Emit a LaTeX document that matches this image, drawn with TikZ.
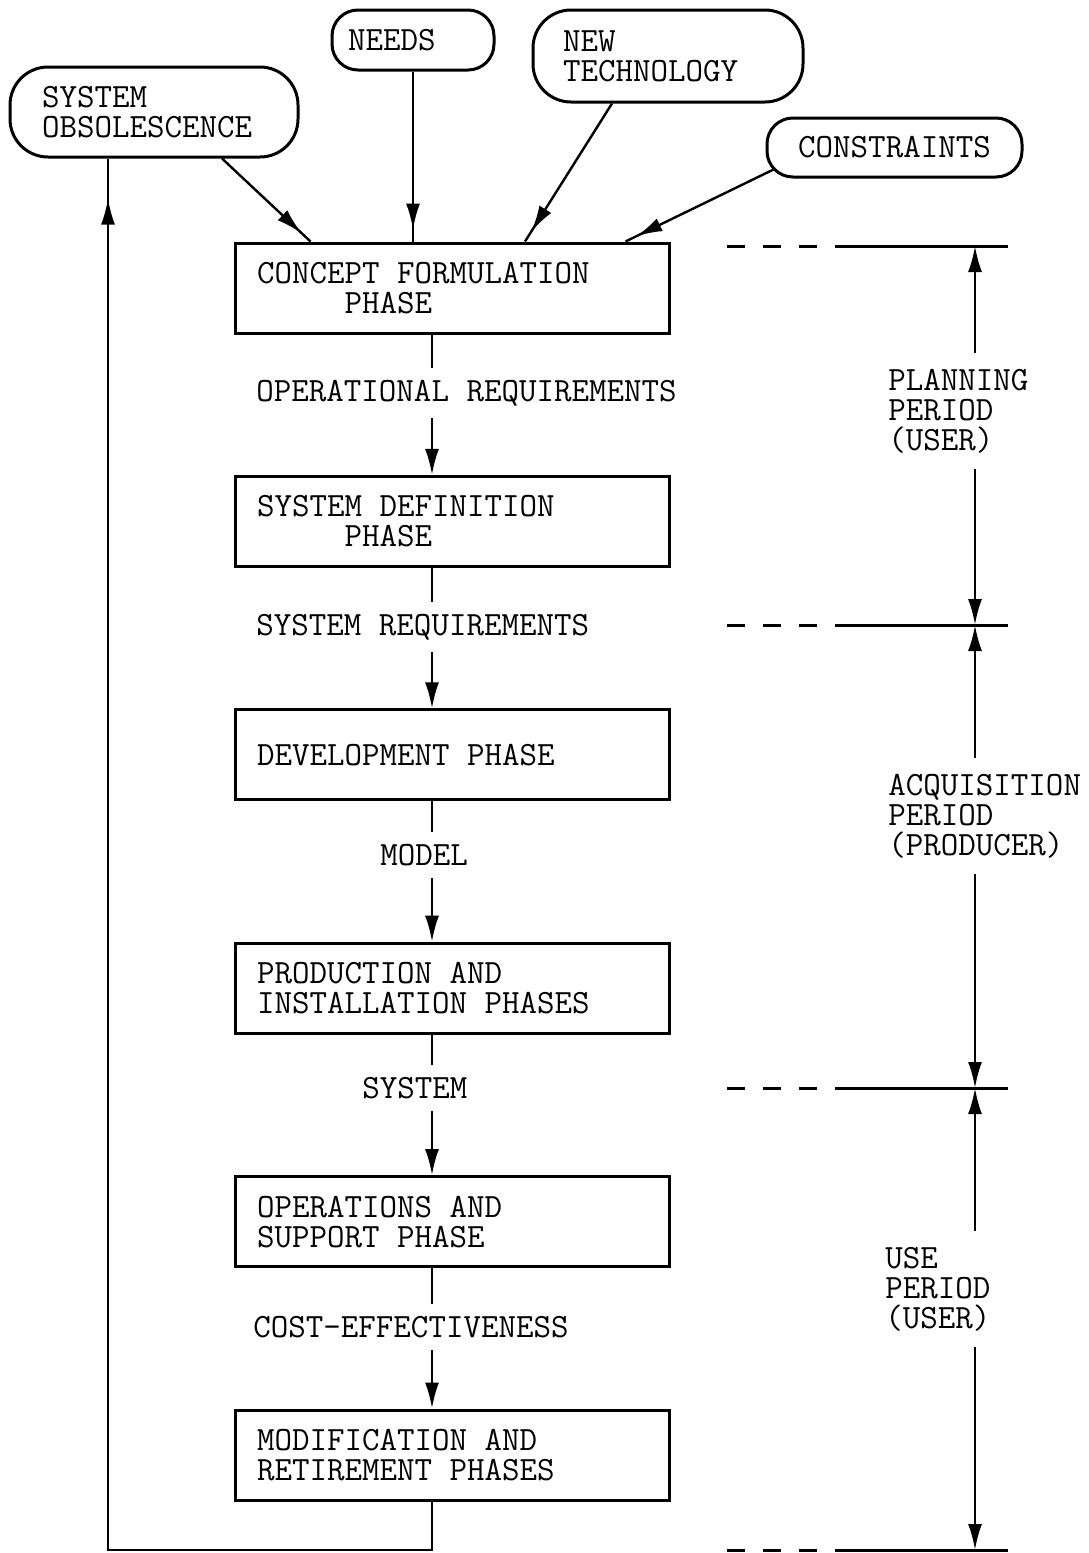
\documentclass[tikz,border=0pt]{standalone}
\usepackage{fontspec}
\usepackage{tikz}
\usetikzlibrary{
    positioning,
    calc,
    arrows.meta,
    decorations.markings
}
\tikzset{
    phase/.style={
        rectangle, draw, line width=1.5pt,
        minimum height=45pt, text width=195pt, inner xsep=11pt,
        align=left,
        execute at begin node={\spaceskip=\fontdimen2\font\relax}
    },
    source/.style={
        rectangle, draw, line width=1.5pt, align=left,
        execute at begin node={\spaceskip=\fontdimen2\font\relax}
    },
    flowlabel/.style={
        anchor=west, inner xsep=0pt, inner ysep=6pt
    },
    periodlabel/.style={
        anchor=west, inner xsep=0pt, inner ysep=8pt, align=left
    },
    line/.style={
        line width=1.2pt
    },
    arrow/.style={
        -{Latex[length=13pt,width=7pt]}, line width=1.2pt
    },
    tipat/.style={
        decoration={markings, mark=at position #1 with {\arrow{Latex[length=13pt,width=7pt]}}},
        postaction={decorate}
    },
    marker/.style={
        line width=1.5pt
    }
}

\begin{document}
\begin{tikzpicture}[x=0.5pt, y=-0.5pt, node distance=70.2pt and 0pt,
	font=\ttfamily\fontsize{17}{15}\selectfont
	]
	\useasboundingbox (0,0) rectangle (1088,1553);
	
	% PHASES
	\node (concept) [phase] at (452,288) {CONCEPT FORMULATION\\\phantom{CONCE}PHASE};
	\node (sysdef) [phase, below=of concept] {SYSTEM DEFINITION\\\phantom{SYSTE}PHASE};
	\node (develop) [phase, below=of sysdef] {DEVELOPMENT PHASE};
	\node (produce) [phase, below=of develop] {PRODUCTION AND\\INSTALLATION PHASES};
	\node (operate) [phase, below=of produce] {OPERATIONS AND\\SUPPORT PHASE};
	\node (retire) [phase, below=of operate] {MODIFICATION AND\\RETIREMENT PHASES};
	
	% INPUTS
	\node (obsolete) [source, minimum width=144pt, minimum height=45pt, rounded corners=19pt, text width=112pt] at (154,112) {SYSTEM\\OBSOLESCENCE};
	\node (needs) [source, minimum width=81pt, minimum height=30pt, rounded corners=13pt, text width=65pt] at (413,40) {NEEDS};
	\node (newtech) [source, minimum width=135pt, minimum height=46pt, rounded corners=19pt, text width=105pt] at (668,56) {NEW\\TECHNOLOGY};
	\node (constr) [source, minimum width=127.5pt, minimum height=29.5pt, rounded corners=13pt] at (894.5,147.5) {CONSTRAINTS};
	
	% LABELS
	\node (opreq) [flowlabel] at (256,393) {OPERATIONAL REQUIREMENTS};
	\node (sysreq) [flowlabel] at (256,627) {SYSTEM REQUIREMENTS};
	\node (model) [flowlabel] at (380,855) {MODEL};
	\node (system) [flowlabel] at (362,1088) {SYSTEM};
	\node (costeff) [flowlabel] at (253,1327) {COST-EFFECTIVENESS};
	
	\node (planning) [periodlabel] at (888,411) {PLANNING\\PERIOD\\(USER)};
	\node (acquis) [periodlabel] at (888,816) {ACQUISITION\\PERIOD\\(PRODUCER)};
	\node (useper) [periodlabel] at (885,1289) {USE\\PERIOD\\(USER)};
	
	\coordinate (col) at (432,0);
	\coordinate (loopb) at (108,1550);
	\coordinate (t1) at (975,246);
	\coordinate (t2) at (975,625);
	\coordinate (t3) at (975,1088);
	\coordinate (t4) at (975,1550);
	
	% INPUT ARROWS
	\draw[line, tipat=-6pt] ($(obsolete.south)+(68,0)$) -- ($(concept.north west)+(77,0)$);
	\draw[line, tipat=-6pt] (needs.south) -- (needs.south |- concept.north);
	\draw[line, tipat=-6pt] ($(newtech.south)+(-56,0)$) -- ($(concept.north)+(73,0)$);
	\draw[line, tipat=-6pt] ($(constr.west)+(8,22)$) -- ($(concept.north east)+(-45,0)$);
	
	% FLOW
	\draw[line] (concept.south -| col) -- (opreq.north -| col);
	\draw[arrow] (opreq.south -| col) -- (sysdef.north -| col);
	\draw[line] (sysdef.south -| col) -- (sysreq.north -| col);
	\draw[arrow] (sysreq.south -| col) -- (develop.north -| col);
	\draw[line] (develop.south -| col) -- (model.north -| col);
	\draw[arrow] (model.south -| col) -- (produce.north -| col);
	\draw[line] (produce.south -| col) -- (system.north -| col);
	\draw[arrow] (system.south -| col) -- (operate.north -| col);
	\draw[line] (operate.south -| col) -- (costeff.north -| col);
	\draw[arrow] (costeff.south -| col) -- (retire.north -| col);
	\draw[line, tipat=-20pt] (retire.south -| col) |- (loopb) -- (loopb |- obsolete.south);
	
	% PERIODS
	\foreach \m in {t1,t2,t3,t4} {
		\draw[marker, dash pattern=on 9pt off 9pt] ($(\m)+(-248,0)$) -- ($(\m)+(-140,0)$);
		\draw[marker] ($(\m)+(-140,0)$) -- ($(\m)+(33,0)$);
	}
	\draw[arrow] (planning.north -| t1) -- (t1);
	\draw[arrow] (planning.south -| t1) -- (t2);
	\draw[arrow] (acquis.north -| t2) -- (t2);
	\draw[arrow] (acquis.south -| t2) -- (t3);
	\draw[arrow] (useper.north -| t3) -- (t3);
	\draw[arrow] (useper.south -| t3) -- (t4);
	
\end{tikzpicture}
\end{document}
